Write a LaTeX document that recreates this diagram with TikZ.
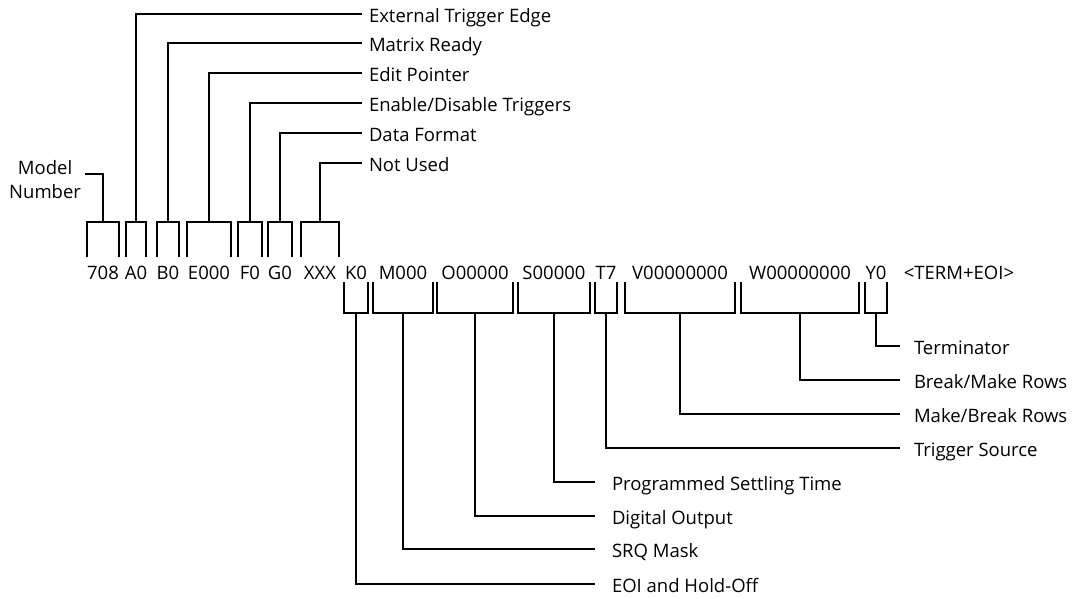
\documentclass[tikz,border=0pt]{standalone}
\usepackage{fontspec}
\setmainfont{Open Sans}
\newcommand\labfont{\fontsize{18.5}{24}\selectfont}
\newcommand\cz[1]{\makebox[0pt]{#1}}
\newcommand\upbr[1]{\draw (#1.west |- 0,257) -- (#1.west |- 0,222) -- (#1.east |- 0,222) -- (#1.east |- 0,257);}
\newcommand\lowbr[1]{\draw (#1.west |- 0,282) -- (#1.west |- 0,313) -- (#1.east |- 0,313) -- (#1.east |- 0,282);}
\begin{document}
\begin{tikzpicture}[x=1pt,y=-1pt,line width=2pt,
  code/.style={inner sep=0pt,text height=13.5pt,text depth=0pt,anchor=base,font=\labfont},
  lab/.style={inner ysep=0pt,text height=17pt,text depth=0pt,anchor=west,font=\labfont},
  labt/.style={lab,inner xsep=6pt},
  labl/.style={lab,inner xsep=16pt},
  labr/.style={lab,inner xsep=13pt}]
\useasboundingbox (0,0) rectangle (1084,599);
% code row
\node[code,minimum width=30pt] (c708) at (103,279) {\cz{708}};
\node[code,minimum width=18pt] (cA) at (136,279) {\cz{A0}};
\node[code,minimum width=20pt] (cB) at (168,279) {\cz{B0}};
\node[code,minimum width=42pt] (cE) at (209,279) {\cz{E000}};
\node[code,minimum width=22pt] (cF) at (250,279) {\cz{F0}};
\node[code,minimum width=22pt] (cG) at (280,279) {\cz{G0}};
\node[code,minimum width=36pt] (cX) at (320,279) {\cz{XXX}};
\node[code,minimum width=22pt] (cK) at (356,279) {\cz{K0}};
\node[code,minimum width=58pt] (cM) at (403,279) {\cz{M000}};
\node[code,minimum width=74pt] (cO) at (475,279) {\cz{O00000}};
\node[code,minimum width=70pt] (cS) at (554,279) {\cz{S00000}};
\node[code,minimum width=20pt] (cT) at (606,279) {\cz{T7}};
\node[code,minimum width=108pt] (cV) at (680,279) {\cz{V00000000}};
\node[code,minimum width=116pt] (cW) at (800,279) {\cz{W00000000}};
\node[code,minimum width=20pt] (cY) at (876,279) {\cz{Y0}};
\node[code] (cTerm) at (959,279) {<TERM+EOI>};
% brackets
\upbr{c708}\upbr{cA}\upbr{cB}\upbr{cE}\upbr{cF}\upbr{cG}\upbr{cX}
\lowbr{cK}\lowbr{cM}\lowbr{cO}\lowbr{cS}\lowbr{cT}\lowbr{cV}\lowbr{cW}\lowbr{cY}
% upper labels
\node[labt] (lExt) at (362,14) {External Trigger Edge};
\node[labt] (lMat) at (362,43) {Matrix Ready};
\node[labt] (lEdit) at (362,73) {Edit Pointer};
\node[labt] (lEna) at (362,103) {Enable/Disable Triggers};
\node[labt] (lDat) at (362,133) {Data Format};
\node[labt] (lNU) at (362,163) {Not Used};
\node[align=center,anchor=east,inner xsep=3pt,font=\labfont] (model) at (85,180) {Model\\Number};
\draw (cA.center |- 0,222) |- (lExt.west);
\draw (cB.center |- 0,222) |- (lMat.west);
\draw (cE.center |- 0,222) |- (lEdit.west);
\draw (cF.center |- 0,222) |- (lEna.west);
\draw (cG.center |- 0,222) |- (lDat.west);
\draw (cX.center |- 0,222) |- (lNU.west);
\draw (model.east |- 0,174) -| (c708.center |- 0,222);
% lower labels
\node[labr] (lTerm) at (900,346) {Terminator};
\node[labr] (lBM) at (900,380) {Break/Make Rows};
\node[labr] (lMB) at (900,414) {Make/Break Rows};
\node[labr] (lTrig) at (900,448) {Trigger Source};
\node[labl] (lProg) at (595,482) {Programmed Settling Time};
\node[labl] (lDig) at (595,516) {Digital Output};
\node[labl] (lSRQ) at (595,549) {SRQ Mask};
\node[labl] (lEOI) at (595,584) {EOI and Hold-Off};
\draw (cY.center |- 0,313) |- (lTerm.west);
\draw (cW.center |- 0,313) |- (lBM.west);
\draw (cV.center |- 0,313) |- (lMB.west);
\draw (cT.center |- 0,313) |- (lTrig.west);
\draw (cS.center |- 0,313) |- (lProg.west);
\draw (cO.center |- 0,313) |- (lDig.west);
\draw (cM.center |- 0,313) |- (lSRQ.west);
\draw (cK.center |- 0,313) |- (lEOI.west);
\end{tikzpicture}
\end{document}
